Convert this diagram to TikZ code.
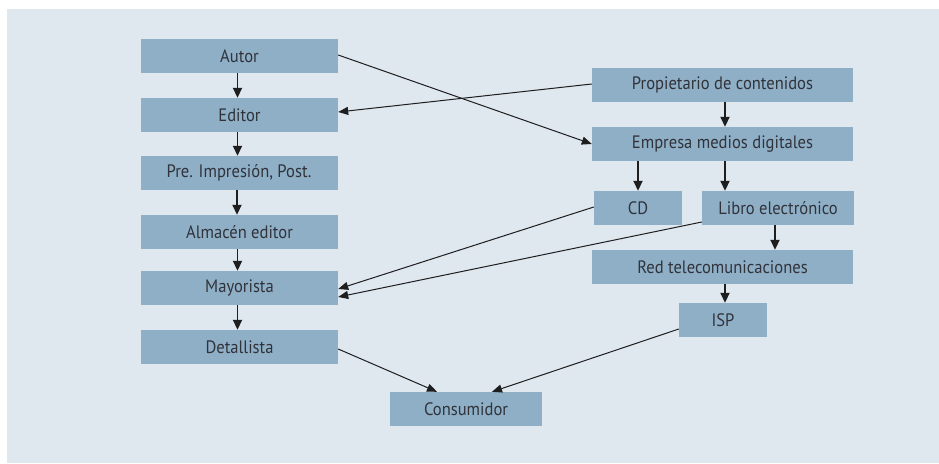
\documentclass[tikz,border=0pt]{standalone}
\usepackage{fontspec}
\setmainfont{PT Sans}[FakeStretch=0.92]
\usetikzlibrary{arrows.meta,calc}
\definecolor{bgc}{HTML}{DFE7EF}
\definecolor{boxc}{HTML}{8FAFC7}
\definecolor{txtc}{HTML}{30333A}
\definecolor{arrc}{HTML}{1E1E1E}
\tikzset{
  box/.style={fill=boxc, draw=none, inner sep=0pt, minimum height=34pt, text=txtc, font=\fontsize{18pt}{21pt}\selectfont},
  varrow/.style={draw=arrc, line width=1.8pt, -{Triangle[length=10pt,width=9pt]}, shorten >=0pt},
  darrow/.style={draw=arrc, line width=1pt, -{Triangle[length=10pt,width=8pt]}},
}
\begin{document}
\begin{tikzpicture}[x=1pt,y=-1pt]
\useasboundingbox (0,0) rectangle (939,463);
\fill[bgc] (7,9) rectangle (939,463);
% left column
\node[box, minimum width=197pt] (autor) at (239.5,56) {Autor};
\node[box, minimum width=197pt] (editor) at (239.5,115) {Editor};
\node[box, minimum width=197pt] (pre) at (239,173) {Pre. Impresión, Post.};
\node[box, minimum width=197pt] (alm) at (239.5,232) {Almacén editor};
\node[box, minimum width=197pt] (may) at (239.5,288) {Mayorista};
\node[box, minimum width=197pt] (det) at (239.5,347) {Detallista};
% right column
\node[box, minimum width=261pt] (prop) at (722.5,85) {Propietario de contenidos};
\node[box, minimum width=261pt] (emp) at (722.5,144) {Empresa medios digitales};
\node[box, minimum width=88pt] (cd) at (638,208) {CD};
\node[box, minimum width=152pt] (libro) at (778,208) {Libro electrónico};
\node[box, minimum width=261pt] (red) at (722.5,267) {Red telecomunicaciones};
\node[box, minimum width=88pt] (isp) at (723,320) {ISP};
\node[box, minimum width=152pt] (cons) at (466,409) {Consumidor};
% vertical arrows
\draw[varrow] ([xshift=-2pt]autor.south) -- ([xshift=-2pt]editor.north);
\draw[varrow] ([xshift=-2pt]editor.south) -- ([xshift=-2pt]editor.south |- pre.north);
\draw[varrow] ([xshift=-2pt]pre.south) -- ([xshift=-2pt]pre.south |- alm.north);
\draw[varrow] ([xshift=-2pt]alm.south) -- ([xshift=-2pt]may.north);
\draw[varrow] ([xshift=-2pt]may.south) -- ([xshift=-2pt]det.north);
\draw[varrow] ([xshift=2.5pt]prop.south) -- ([xshift=2.5pt]emp.north);
\draw[varrow] (emp.south -| cd.north) -- ([xshift=0pt]cd.north);
\draw[varrow] ([xshift=2.5pt]emp.south) -- ([xshift=2.5pt]emp.south |- libro.north);
\draw[varrow] ([xshift=-3pt]libro.south) -- ([xshift=-3pt]libro.south |- red.north);
\draw[varrow] ([xshift=2.5pt]red.south) -- ([xshift=2.5pt]red.south |- isp.north);
% diagonal arrows
\draw[darrow] ([yshift=1pt]autor.east) -- (emp.west);
\draw[darrow] ([yshift=1pt]prop.west) -- ([yshift=3pt]editor.east);
\draw[darrow] ([yshift=1pt]cd.west) -- ([yshift=-1pt]may.east);
\draw[darrow] ([yshift=-14pt]libro.west) -- ([yshift=-9pt]may.east);
\draw[darrow] ([yshift=-2pt]det.east) -- ([xshift=-29pt]cons.north);
\draw[darrow] ([yshift=-9pt]isp.west) -- ([xshift=26pt]cons.north);
\end{tikzpicture}
\end{document}
